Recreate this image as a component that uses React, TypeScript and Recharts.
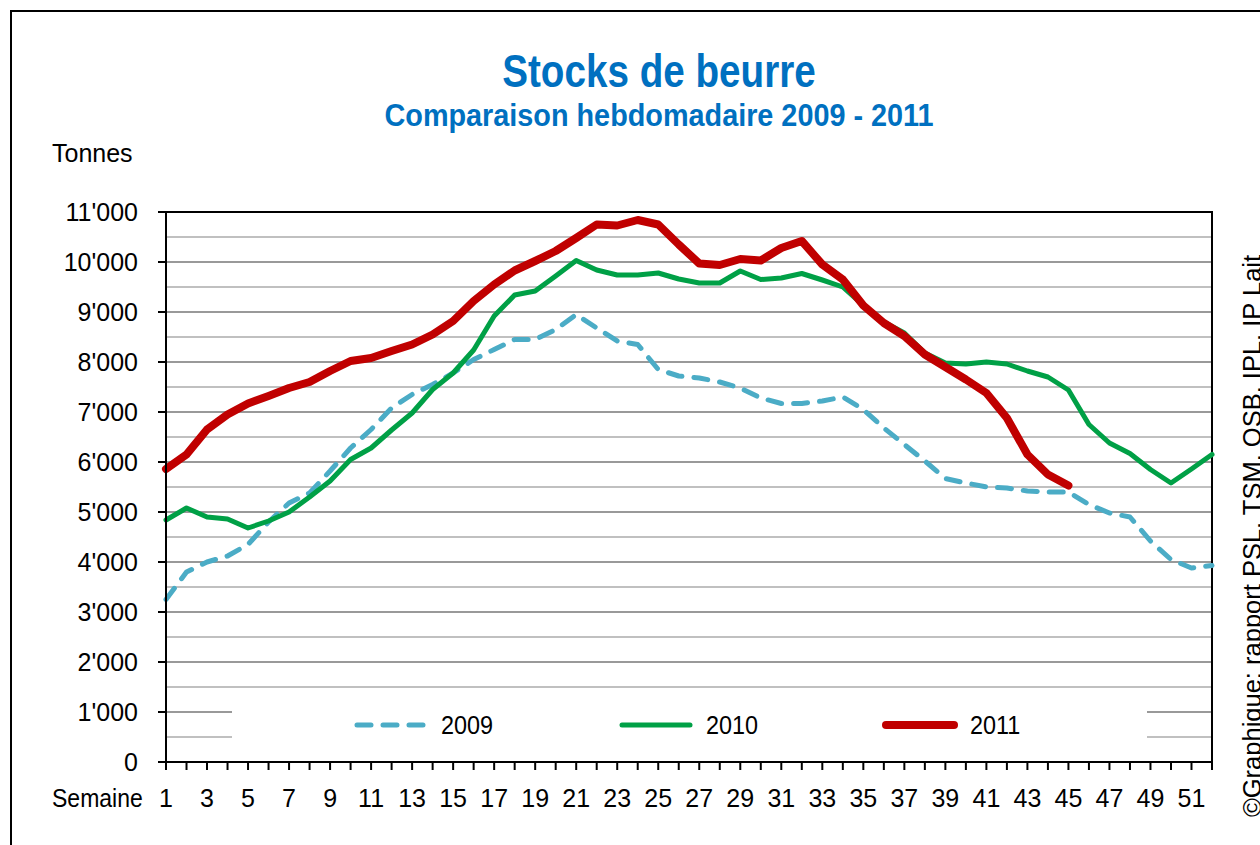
import {
  CartesianGrid,
  Legend,
  Line,
  LineChart,
  ReferenceArea,
  XAxis,
  YAxis,
} from "recharts";

// Semaines 1 à 52
const weeks = [
  1, 2, 3, 4, 5, 6, 7, 8, 9, 10, 11, 12, 13, 14, 15, 16, 17, 18, 19, 20, 21, 22, 23, 24, 25, 26,
  27, 28, 29, 30, 31, 32, 33, 34, 35, 36, 37, 38, 39, 40, 41, 42, 43, 44, 45, 46, 47, 48, 49, 50, 51, 52,
];

// Stocks de beurre en tonnes
const stocks2009 = [
  3250, 3800, 4000, 4120, 4350, 4800, 5180, 5380, 5820, 6280, 6650, 7080, 7350, 7550, 7780, 8050,
  8250, 8450, 8450, 8650, 8950, 8680, 8420, 8350, 7850, 7720, 7680, 7600, 7480, 7280, 7170, 7170,
  7220, 7300, 7050, 6680, 6350, 6020, 5670, 5580, 5500, 5480, 5420, 5400, 5400, 5150, 4980, 4900,
  4420, 4050, 3880, 3930,
];

const stocks2010 = [
  4840, 5080, 4900, 4860, 4680, 4820, 5000, 5300, 5620, 6050, 6280, 6640, 6980, 7450, 7780, 8240,
  8920, 9340, 9420, 9720, 10030, 9840, 9740, 9740, 9780, 9660, 9580, 9580, 9820, 9650, 9680, 9770,
  9640, 9500, 9130, 8800, 8580, 8180, 7980, 7960, 8000, 7960, 7820, 7700, 7440, 6750, 6380, 6170,
  5850, 5580, 5860, 6150,
];

const stocks2011 = [
  5860, 6150, 6650, 6950, 7170, 7320, 7480, 7600, 7820, 8020, 8080, 8220, 8350, 8550, 8820, 9220,
  9550, 9830, 10020, 10220, 10480, 10750, 10730, 10840, 10750, 10350, 9970, 9940, 10060, 10030, 10280,
  10420, 9950, 9650, 9130, 8780, 8520, 8150, 7900, 7650, 7380, 6880, 6150, 5750, 5530,
];

const yTicks = [0, 1000, 2000, 3000, 4000, 5000, 6000, 7000, 8000, 9000, 10000, 11000];
const yMinorLines = [500, 1500, 2500, 3500, 4500, 5500, 6500, 7500, 8500, 9500, 10500];

const data = weeks.map((week, i) => ({
  week,
  y2009: stocks2009[i],
  y2010: stocks2010[i],
  y2011: i < stocks2011.length ? stocks2011[i] : null,
}));

const series = [
  { key: "y2009", name: "2009", color: "#4BACC6", width: 5, dash: "14 12" },
  { key: "y2010", name: "2010", color: "#00A046", width: 5, dash: undefined },
  { key: "y2011", name: "2011", color: "#C00000", width: 8, dash: undefined },
];

const FONT = "'Liberation Sans Narrow', 'Arial Narrow', 'Liberation Sans', Arial, sans-serif";
const BLUE_TITLE = "#0070C0";

function formatTonnes(value: number) {
  if (value === 0) return "0";
  return `${Math.floor(value / 1000)}'000`;
}

function LegendContent() {
  return (
    <div
      style={{
        display: "flex",
        justifyContent: "center",
        alignItems: "center",
        gap: 119,
        height: "100%",
        background: "#fff",
        fontFamily: FONT,
        fontSize: 26,
        color: "#000",
      }}
    >
      {series.map((s) => (
        <div key={s.key} style={{ display: "flex", alignItems: "center", gap: 12 }}>
          <svg width={76} height={12}>
            <line
              x1={4}
              y1={6}
              x2={72}
              y2={6}
              stroke={s.color}
              strokeWidth={s.width}
              strokeDasharray={s.dash}
              strokeLinecap="round"
            />
          </svg>
          <span style={{ display: "inline-block", transform: "scaleX(0.9)", transformOrigin: "0 50%" }}>
            {s.name}
          </span>
        </div>
      ))}
    </div>
  );
}

export default function App() {
  return (
    <div
      style={{
        position: "fixed",
        left: 0,
        top: 0,
        width: 1260,
        height: 845,
        overflow: "hidden",
        background: "#fff",
        fontFamily: FONT,
      }}
    >
      <div
        style={{
          position: "absolute",
          left: 10,
          top: 10,
          width: 1400,
          height: 1000,
          border: "2px solid #000",
        }}
      />
      <div
        style={{
          position: "absolute",
          left: 0,
          width: 1318,
          top: 48,
          textAlign: "center",
          color: BLUE_TITLE,
          fontWeight: "bold",
          fontSize: 46,
          lineHeight: 1,
          transform: "scaleX(0.84)",
        }}
      >
        Stocks de beurre
      </div>
      <div
        style={{
          position: "absolute",
          left: 0,
          width: 1318,
          top: 99,
          textAlign: "center",
          color: BLUE_TITLE,
          fontWeight: "bold",
          fontSize: 32,
          lineHeight: 1,
          transform: "scaleX(0.9)",
        }}
      >
        Comparaison hebdomadaire 2009 - 2011
      </div>
      <div style={{ position: "absolute", left: 52, top: 141, fontSize: 25, lineHeight: 1 }}>Tonnes</div>
      <div
        style={{
          position: "absolute",
          left: 52,
          top: 786,
          fontSize: 25,
          lineHeight: 1,
          transform: "scaleX(0.92)",
          transformOrigin: "0 0",
        }}
      >
        Semaine
      </div>
      <div
        style={{
          position: "absolute",
          left: 1240,
          top: 817,
          transform: "rotate(-90deg)",
          transformOrigin: "0 0",
          whiteSpace: "nowrap",
          fontFamily: "'Liberation Sans', Arial, sans-serif",
          fontSize: 25.5,
          lineHeight: 1,
        }}
      >
        ©Graphique: rapport PSL, TSM, OSB, IPL, IP Lait
      </div>

      <div style={{ position: "absolute", left: 0, top: 0 }}>
        <LineChart
          width={1260}
          height={845}
          data={data}
          margin={{ top: 212, right: 48, bottom: 43, left: 66 }}
        >
          <CartesianGrid
            horizontal
            vertical={false}
            horizontalValues={yMinorLines}
            stroke="#C0C0C0"
            strokeWidth={2}
          />
          <CartesianGrid
            horizontal
            vertical={false}
            horizontalValues={yTicks}
            stroke="#999999"
            strokeWidth={2}
          />
          <ReferenceArea
            x1={1}
            x2={52}
            y1={0}
            y2={11000}
            fill="none"
            stroke="#000"
            strokeWidth={2}
            ifOverflow="visible"
          />
          <XAxis
            dataKey="week"
            type="number"
            domain={[1, 52]}
            ticks={weeks}
            interval={0}
            tickFormatter={(w: number) => (w % 2 === 1 ? String(w) : "")}
            axisLine={{ stroke: "#000", strokeWidth: 2 }}
            tickLine={{ stroke: "#000", strokeWidth: 2 }}
            tickSize={8}
            tickMargin={19}
            tick={{ fill: "#000", fontSize: 25, fontFamily: FONT }}
            height={40}
          />
          <YAxis
            type="number"
            domain={[0, 11000]}
            ticks={yTicks}
            interval={0}
            tickFormatter={formatTonnes}
            axisLine={{ stroke: "#000", strokeWidth: 2 }}
            tickLine={{ stroke: "#000", strokeWidth: 2 }}
            tickSize={8}
            tickMargin={20}
            tick={{ fill: "#000", fontSize: 25, fontFamily: FONT }}
            width={100}
          />
          <Legend
            layout="horizontal"
            verticalAlign="middle"
            align="center"
            content={<LegendContent />}
            wrapperStyle={{ left: 232, top: 700, width: 915, height: 50 }}
          />
          {series.map((s) => (
            <Line
              key={s.key}
              type="linear"
              dataKey={s.key}
              name={s.name}
              stroke={s.color}
              strokeWidth={s.width}
              strokeDasharray={s.dash}
              strokeLinecap="round"
              strokeLinejoin="round"
              dot={false}
              activeDot={false}
              connectNulls={false}
              isAnimationActive={false}
            />
          ))}
        </LineChart>
      </div>
    </div>
  );
}
